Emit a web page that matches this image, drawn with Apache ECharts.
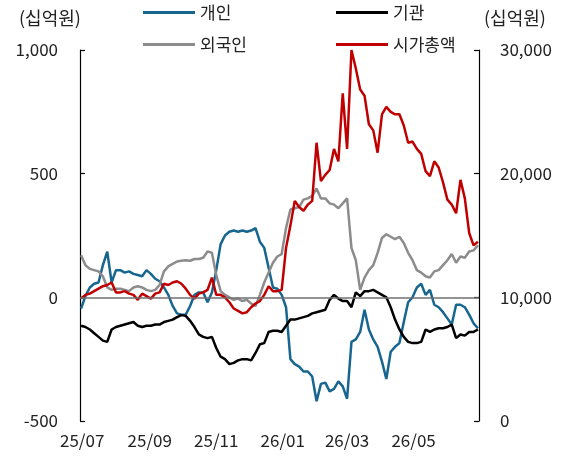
<!DOCTYPE html>
<html><head><meta charset="utf-8">
<script src="https://cdn.jsdelivr.net/npm/echarts@6/dist/echarts.min.js"></script>
<style>html,body{margin:0;padding:0;background:#fff}#c{width:561px;height:459px}</style>
</head><body><div id="c"></div>
<script>
const dates = [
'2025-06-30','2025-07-04','2025-07-08','2025-07-12','2025-07-16','2025-07-20','2025-07-24','2025-07-28',
'2025-08-01','2025-08-05','2025-08-09','2025-08-13','2025-08-17','2025-08-21','2025-08-25','2025-08-29',
'2025-09-02','2025-09-06','2025-09-10','2025-09-14','2025-09-18','2025-09-22','2025-09-26','2025-09-30',
'2025-10-04','2025-10-08','2025-10-12','2025-10-16','2025-10-20','2025-10-24','2025-10-28',
'2025-11-01','2025-11-05','2025-11-09','2025-11-13','2025-11-17','2025-11-21','2025-11-25','2025-11-29',
'2025-12-03','2025-12-07','2025-12-11','2025-12-15','2025-12-19','2025-12-23','2025-12-27','2025-12-31',
'2026-01-04','2026-01-08','2026-01-12','2026-01-16','2026-01-20','2026-01-24','2026-01-28',
'2026-02-01','2026-02-05','2026-02-09','2026-02-13','2026-02-17','2026-02-21','2026-02-25',
'2026-03-01','2026-03-05','2026-03-09','2026-03-13','2026-03-17','2026-03-21','2026-03-25','2026-03-29',
'2026-04-02','2026-04-06','2026-04-10','2026-04-14','2026-04-18','2026-04-22','2026-04-26','2026-04-30',
'2026-05-04','2026-05-08','2026-05-12','2026-05-16','2026-05-20','2026-05-24','2026-05-28',
'2026-06-01','2026-06-05','2026-06-09','2026-06-13','2026-06-17','2026-06-21','2026-06-25','2026-06-29'
];
// 개인 (십억원, left axis)
const individual = [
-45,5,40,55,60,130,185,60,110,110,
100,105,95,90,85,110,95,75,65,40,
10,-35,-65,-70,-70,-35,10,20,20,-20,
20,110,215,250,265,270,265,270,265,270,
280,225,200,120,40,35,10,-40,-250,-270,
-280,-300,-300,-320,-420,-350,-345,-380,-370,-340,
-360,-410,-180,-170,-140,-50,-130,-170,-200,-260,
-330,-220,-200,-185,-100,-20,0,40,55,10,
30,-30,-40,-60,-85,-110,-30,-30,-40,-70,
-105,-125
];
// 기관 (십억원, left axis)
const institution = [
-115,-120,-130,-145,-160,-175,-180,-130,-120,-115,
-110,-105,-100,-115,-120,-115,-115,-110,-110,-100,
-95,-90,-80,-72,-75,-95,-120,-150,-160,-165,
-160,-205,-240,-250,-270,-265,-255,-250,-250,-255,
-225,-190,-185,-140,-135,-135,-140,-115,-90,-90,
-85,-80,-75,-65,-60,-55,-50,-10,10,-5,
-15,-15,-40,20,5,25,25,30,20,10,
0,-40,-90,-130,-160,-180,-185,-185,-180,-130,
-140,-130,-125,-125,-120,-110,-165,-150,-155,-140,
-140,-130
];
// 외국인 (십억원, left axis)
const foreign = [
170,130,115,110,105,85,40,30,35,35,
30,25,40,45,40,30,25,30,50,105,
125,135,145,148,150,148,155,155,160,185,
180,90,25,10,0,-10,-5,-15,-10,-25,
-35,10,60,100,140,165,175,280,355,360,
365,395,400,410,440,400,400,380,375,360,
380,400,200,150,30,80,110,130,180,240,
255,245,235,245,220,180,150,110,100,85,
80,105,110,130,150,175,140,165,160,185,
190,210
];
// 시가총액 (십억원, right axis)
const marketCap = [
9900,10200,10300,10500,10700,10900,11000,11200,10400,10400,
10500,10300,10200,9800,10300,10100,9900,10300,10400,11100,
11000,11200,11300,11100,10700,10200,9900,10300,10400,10600,
11600,10200,10200,10000,9600,9100,8900,8700,8800,9200,
9500,9700,10200,10900,10500,10500,10600,14000,15800,17800,
17300,17000,17500,17800,22500,19400,19900,20300,22000,21000,
26500,22000,30000,28500,26800,26300,24000,23500,21700,24800,
25400,25000,24800,24800,23900,22500,22600,22000,21600,20200,
19800,21000,20500,19300,17900,17500,16800,19500,18000,15200,
14200,14500
];
const xTickDates = ['2025-07-01','2025-09-01','2025-11-01','2026-01-01','2026-03-01','2026-05-01'];
const seriesNames = ['개인','기관','외국인','시가총액'];
const unitLabel = '(십억원)';

const FONT = "'Noto Sans CJK KR', 'Noto Sans', sans-serif";
const TXT = '#222';
const colors = ['#17668f','#000000','#8c8c8c','#c00000'];
function ts(s){const p=s.split('-');return Date.UTC(+p[0],+p[1]-1,+p[2]);}
const pair = arr => arr.map((v,i)=>[ts(dates[i]), v]);
const fmtNum = v => Number(v).toLocaleString('en-US');

const chart = echarts.init(document.getElementById('c'), null, {renderer:'canvas'});
const legendBase = {icon:'rect', itemWidth:52, itemHeight:3, padding:0, itemGap:6,
  textStyle:{fontSize:17, color:TXT, fontFamily:FONT}};
chart.setOption({
  animation:false,
  backgroundColor:'#fff',
  textStyle:{fontFamily:FONT},
  grid:{left:80, right:82, top:50, bottom:38},
  legend:[
    Object.assign({data:[seriesNames[0]], left:143, top:4}, legendBase),
    Object.assign({data:[seriesNames[1]], left:336, top:4}, legendBase),
    Object.assign({data:[seriesNames[2]], left:143, top:36}, legendBase),
    Object.assign({data:[seriesNames[3]], left:336, top:36}, legendBase)
  ],
  graphic:[
    {type:'text', left:19, top:9, style:{text:unitLabel, fontSize:18, fill:TXT, fontFamily:FONT}},
    {type:'text', left:484, top:9, style:{text:unitLabel, fontSize:18, fill:TXT, fontFamily:FONT}}
  ],
  xAxis:{
    type:'value', min:ts('2025-06-29'), max:ts('2026-06-30'),
    axisLine:{show:false}, axisTick:{show:false}, splitLine:{show:false},
    axisLabel:{
      customValues: xTickDates.map(ts),
      formatter: v => {const d=new Date(v); return String(d.getUTCFullYear()).slice(2)+'/'+String(d.getUTCMonth()+1).padStart(2,'0');},
      fontSize:17, color:TXT, margin:11, fontFamily:FONT, hideOverlap:false
    }
  },
  yAxis:[
    {type:'value', min:-500, max:1000, interval:500, position:'left',
     axisLine:{show:true, lineStyle:{color:'#000', width:1.2}},
     axisTick:{show:true, inside:true, length:5, lineStyle:{color:'#000', width:1.2}},
     splitLine:{show:false},
     axisLabel:{fontSize:17, color:TXT, margin:22, fontFamily:FONT, formatter:fmtNum}},
    {type:'value', min:0, max:30000, interval:10000, position:'right',
     axisLine:{show:true, lineStyle:{color:'#000', width:1.2}},
     axisTick:{show:true, inside:true, length:5, lineStyle:{color:'#000', width:1.2}},
     splitLine:{show:false},
     axisLabel:{fontSize:17, color:TXT, margin:21, fontFamily:FONT, formatter:fmtNum}}
  ],
  series:[
    {name:seriesNames[0], type:'line', yAxisIndex:0, data:pair(individual), symbol:'none',
     lineStyle:{width:2.5, color:colors[0]}, itemStyle:{color:colors[0]},
     markLine:{silent:true, symbol:['none','none'], label:{show:false},
       lineStyle:{color:'#707070', width:1.5, type:'solid'}, data:[{yAxis:0}]}},
    {name:seriesNames[1], type:'line', yAxisIndex:0, data:pair(institution), symbol:'none',
     lineStyle:{width:2.5, color:colors[1]}, itemStyle:{color:colors[1]}},
    {name:seriesNames[2], type:'line', yAxisIndex:0, data:pair(foreign), symbol:'none',
     lineStyle:{width:2.5, color:colors[2]}, itemStyle:{color:colors[2]}},
    {name:seriesNames[3], type:'line', yAxisIndex:1, data:pair(marketCap), symbol:'none',
     lineStyle:{width:2.5, color:colors[3]}, itemStyle:{color:colors[3]}}
  ]
});
</script></body></html>
